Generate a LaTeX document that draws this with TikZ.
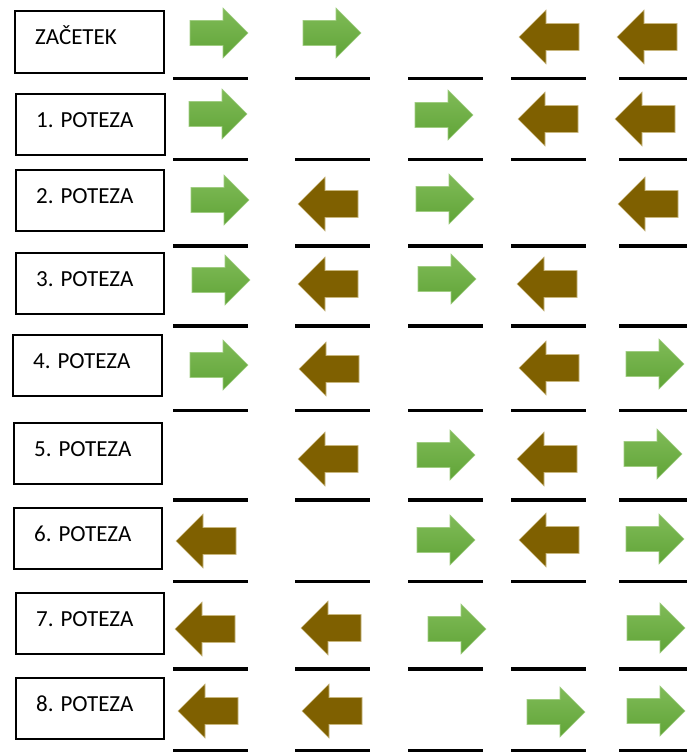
\documentclass[tikz,border=0pt]{standalone}
\usepackage{fontspec}
\setmainfont{Carlito}
\definecolor{gtop}{RGB}{128,187,88}
\definecolor{gbot}{RGB}{96,164,55}
\definecolor{gedge}{RGB}{160,205,130}
\definecolor{brownfill}{RGB}{127,96,0}
\definecolor{brownedge}{RGB}{200,182,125}
\tikzset{
  movebox/.style={draw=black, line width=1.8pt},
  lbl/.style={font=\fontsize{23}{26}\selectfont, inner sep=0pt, anchor=base west},
  slotline/.style={line width=3.5pt, black},
  gfill/.style={top color=gtop, bottom color=gbot, draw=gedge, line width=0.6pt},
  bfill/.style={fill=brownfill, draw=brownedge, line width=0.6pt},
  garrow/.pic={\path[gfill] (0,-12.5) -- (33,-12.5) -- (33,-25) -- (58,0) -- (33,25) -- (33,12.5) -- (0,12.5) -- cycle;},
  barrow/.pic={\path[bfill] (0,0) -- (27,-27) -- (27,-13.5) -- (60,-13.5) -- (60,13.5) -- (27,13.5) -- (27,27) -- cycle;}
}
\begin{document}
\begin{tikzpicture}[x=1pt,y=-1pt]
\useasboundingbox[fill=white] (0,0) rectangle (686,752);
% label boxes
\foreach \l/\t/\r/\b/\txt [count=\i from 0] in {
  14/10/163/72/ZAČETEK,
  15/93/164/154/1. POTEZA,
  15/169/163/230/2. POTEZA,
  15/252/163/313/3. POTEZA,
  12/334/161/395/4. POTEZA,
  13/422/161/483/5. POTEZA,
  13/507/161/568/6. POTEZA,
  15/592/163/653/7. POTEZA,
  15/677/163/738/8. POTEZA}{
  \node[movebox, inner sep=0pt, minimum width={(\r-\l)*1pt}, minimum height={(\b-\t)*1pt}, anchor=north west] (box\i) at (\l,\t) {};
  \node[lbl] (label\i) at (\l+21,\t+34.5) {\txt};
}
% slot lines
\foreach \y [count=\i from 0] in {78.5,159.5,246,326,410.5,500,581.5,669,750.5}{
  \foreach \a/\e [count=\j] in {173/248,295/370,408/483,511/586,619/690}{
    \coordinate (s\i-\j-a) at (\a,\y);
    \coordinate (s\i-\j-b) at (\e,\y);
    \draw[slotline] (s\i-\j-a) -- (s\i-\j-b);
  }
}
% green arrows (left x, centre y)
\foreach \x/\y in {190/33,303/33,189/114,415/115,191/200,416/199,192/280,418/279,
  190/365,626/364,417/455,624/454,417/540,626/539,428/629,627/628,527/712,627/711}{
  \pic at (\x,\y) {garrow};
}
% brown arrows (tip x, centre y)
\foreach \x/\y in {519/37,617/37,518/119,615/119,298/204,618/204,298/284,517/284,
  299/369,519/368,298/459,517/459,176/541,519/540,175/629,301/628,178/711,302/711}{
  \pic at (\x,\y) {barrow};
}
\end{tikzpicture}
\end{document}
